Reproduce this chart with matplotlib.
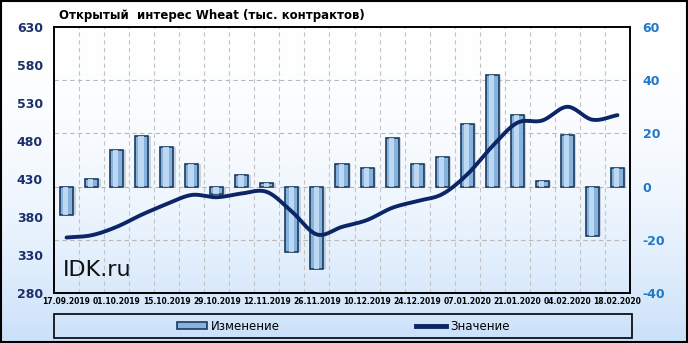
import numpy as np
import matplotlib
matplotlib.use("Agg")
import matplotlib.pyplot as plt
from matplotlib.patches import Rectangle
from matplotlib.lines import Line2D

plt.rcParams["axes.unicode_minus"] = False

# weekly dates, labels every two weeks
dates = ["17.09.2019", "24.09.2019", "01.10.2019", "08.10.2019", "15.10.2019",
         "22.10.2019", "29.10.2019", "05.11.2019", "12.11.2019", "19.11.2019",
         "26.11.2019", "03.12.2019", "10.12.2019", "17.12.2019", "24.12.2019",
         "31.12.2019", "07.01.2020", "14.01.2020", "21.01.2020", "28.01.2020",
         "04.02.2020", "11.02.2020", "18.02.2020"]

# change (right axis, bars)
change = [-10.5, 2.7, 13.6, 19.0, 14.7, 8.5, -2.7, 4.4, 1.5, -24.4, -31.0,
          8.5, 7.0, 18.3, 8.5, 11.1, 23.5, 42.0, 26.9, 2.0, 19.5, -18.4, 7.0]

# open interest value (left axis, line)
value = [353, 356, 367, 383, 397, 409, 406, 411, 413, 387, 357,
         367, 376, 392, 401, 410, 436, 473, 504, 507, 525, 508, 514]

left_ticks = [280, 330, 380, 430, 480, 530, 580, 630]
right_ticks = [-40, -20, 0, 20, 40, 60]


def smooth(x, y, n=20):
    # catmull-rom curve through the points (like the excel "smoothed line")
    x = np.asarray(x, float)
    y = np.asarray(y, float)
    px = np.concatenate([[2 * x[0] - x[1]], x, [2 * x[-1] - x[-2]]])
    py = np.concatenate([[2 * y[0] - y[1]], y, [2 * y[-1] - y[-2]]])
    xs, ys = [], []
    t = np.linspace(0, 1, n, endpoint=False)
    for i in range(1, len(px) - 2):
        for p, out in ((px, xs), (py, ys)):
            p0, p1, p2, p3 = p[i - 1], p[i], p[i + 1], p[i + 2]
            out.extend(0.5 * (2 * p1 + (-p0 + p2) * t
                              + (2 * p0 - 5 * p1 + 4 * p2 - p3) * t ** 2
                              + (-p0 + 3 * p1 - 3 * p2 + p3) * t ** 3))
    xs.append(x[-1])
    ys.append(y[-1])
    return np.array(xs), np.array(ys)


fig = plt.figure(figsize=(6.88, 3.43), dpi=100)

# background gradient
bg = fig.add_axes([0, 0, 1, 1], zorder=-10)
grad = np.linspace(0, 1, 256).reshape(-1, 1)
top = np.array([1.0, 1.0, 1.0])
bot = np.array([0.79, 0.88, 0.98])
img = top + (bot - top) * grad[:, :, None] ** 2.2
bg.imshow(img, aspect="auto", extent=[0, 1, 0, 1])
bg.set_xlim(0, 1)
bg.set_ylim(0, 1)
bg.axis("off")
bg.add_patch(Rectangle((0.001, 0.002), 0.997, 0.995, transform=bg.transAxes,
                       fill=False, edgecolor="black", linewidth=1.5))

W, H = 688, 343
pos = [54 / W, 1 - 293 / H, (630 - 54) / W, (293 - 27) / H]
ax = fig.add_axes(pos)
ax2 = ax.twinx()
ax.set_zorder(ax2.get_zorder() + 1)
ax.patch.set_visible(False)
ax2.patch.set_visible(False)

x = np.arange(len(dates))

# bars: shadow, body, bevel highlight
bw = 0.52
ax2.bar(x + 0.1, change, width=bw, color="#7a8ea6", alpha=0.35, zorder=1)
ax2.bar(x, change, width=bw, color="#86b2de", edgecolor="#1c3a5c",
        linewidth=1.2, zorder=2)
ax2.bar(x - 0.03, change, width=bw * 0.4, color="#c6dff6", linewidth=0,
        zorder=3, alpha=0.85)

ax2.set_ylim(-40, 60)
ax2.set_yticks(right_ticks)
ax2.tick_params(axis="y", length=0, pad=9, labelcolor="#1f78c8", labelsize=9)
for lab in ax2.get_yticklabels():
    lab.set_fontweight("bold")
for t in right_ticks[1:-1]:
    ax2.axhline(t, color="#b8b8b8", linestyle=(0, (4, 3)), linewidth=0.8, zorder=0)
for b in range(1, len(dates)):
    ax2.axvline(b - 0.5, color="#c4c4c4", linestyle=(0, (4, 3)), linewidth=0.8, zorder=0)

sx, sy = smooth(x, value)
ax.plot(sx, sy, color="#0b2566", linewidth=2.8, solid_capstyle="round", zorder=5)
ax.set_ylim(280, 630)
ax.set_yticks(left_ticks)
ax.tick_params(axis="y", length=0, pad=8, labelcolor="#1b2f6b", labelsize=9)
for lab in ax.get_yticklabels():
    lab.set_fontweight("bold")

ax.set_xlim(-0.5, len(dates) - 0.5)
ax.set_xticks(x[::2])
ax.set_xticklabels(dates[::2], fontsize=5.5, fontweight="bold")
ax.tick_params(axis="x", length=0, pad=3)

for a in (ax, ax2):
    for s in a.spines.values():
        s.set_linewidth(1.2)
        s.set_color("black")

fig.text(59 / W, 1 - 16 / H, "Открытый  интерес Wheat (тыс. контрактов)",
         fontsize=8.5, fontweight="bold", va="center", ha="left")
ax.text(0.016, 0.085, "IDK.ru", transform=ax.transAxes, fontsize=16,
        color="#111111", va="center", ha="left", zorder=6)

# legend box
bg.add_patch(Rectangle((54 / W, 1 - 338 / H), 578 / W, 24 / H, transform=bg.transAxes,
                       fill=False, edgecolor="black", linewidth=1.2))
handles = [Rectangle((0, 0), 1, 1, facecolor="#86b2de", edgecolor="#1c3a5c", linewidth=1.2),
           Line2D([], [], color="#0b2566", linewidth=3.5)]
fig.legend(handles, ["Изменение", "Значение"], loc="center",
           bbox_to_anchor=(343 / W, 1 - 326 / H), ncol=2, frameon=False,
           fontsize=8.5, handlelength=2.6, handleheight=0.6, handletextpad=0.3,
           columnspacing=11.5)

fig.savefig("out.png", dpi=100)
